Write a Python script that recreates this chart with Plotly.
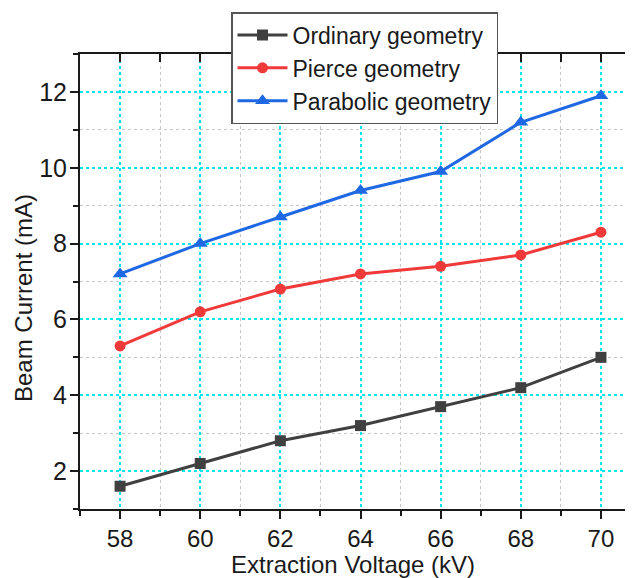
import plotly.graph_objects as go

voltage = [58, 60, 62, 64, 66, 68, 70]
ordinary = [1.6, 2.2, 2.8, 3.2, 3.7, 4.2, 5.0]
pierce = [5.3, 6.2, 6.8, 7.2, 7.4, 7.7, 8.3]
parabolic = [7.2, 8.0, 8.7, 9.4, 9.9, 11.2, 11.9]

names = ["Ordinary geometry", "Pierce geometry", "Parabolic geometry"]
colors = ["#404040", "#f03a3a", "#1f68e4"]
symbols = ["square", "circle", "triangle-up"]
series = [ordinary, pierce, parabolic]

FONT = "Liberation Sans, Arial, sans-serif"

# page has an 8px body margin, so the figure is drawn 8px smaller and offset
OFF = 8
W, H = 633 - OFF, 578 - OFF
L, T, B = 80 - OFF, 54 - OFF, 69
PW, PH = W - L, H - T - B

def px_x(p):  # page pixel -> paper
    return (p - OFF - L) / PW

def px_y(p):
    return (H - B - (p - OFF)) / PH

fig = go.Figure()
for name, vals, col, sym in zip(names, series, colors, symbols):
    fig.add_trace(go.Scatter(
        x=voltage, y=vals, name=name, mode="lines+markers",
        line=dict(color=col, width=3),
        marker=dict(symbol=sym, size=11 if sym != "triangle-up" else 13, color=col),
    ))

# invisible trace to activate mirror axes (top / right)
fig.add_trace(go.Scatter(x=[], y=[], xaxis="x2", yaxis="y2", showlegend=False, hoverinfo="skip"))

XR = [57, 70.8]
YR = [1, 13]

fig.update_layout(
    width=W, height=H,
    margin=dict(l=L, r=0, t=T, b=B, autoexpand=False),
    paper_bgcolor="white", plot_bgcolor="white",
    font=dict(family=FONT, color="#1a1a1a"),
    showlegend=True,
    legend=dict(
        x=px_x(231), y=px_y(12), xanchor="left", yanchor="top",
        bgcolor="white", bordercolor="#555555", borderwidth=1.5,
        font=dict(size=23, family=FONT, color="#1a1a1a"),
        itemwidth=50, tracegroupgap=0,
    ),
    xaxis=dict(
        range=XR, tickvals=voltage, ticktext=[str(v) for v in voltage],
        showline=True, linecolor="#1a1a1a", linewidth=2,
        ticks="outside", ticklen=8, tickwidth=2, tickcolor="#1a1a1a",
        tickfont=dict(size=24), ticklabelstandoff=-1,
        showgrid=True, gridcolor="#00e5ee", gridwidth=2, griddash="dot",
        minor=dict(tickvals=[57, 59, 61, 63, 65, 67, 69], ticks="outside", ticklen=5, tickwidth=2,
                   tickcolor="#1a1a1a", showgrid=True, gridcolor="#c8c8c8", gridwidth=1, griddash="dot"),
        zeroline=False, automargin=False,
    ),
    yaxis=dict(
        range=YR, tickvals=[2, 4, 6, 8, 10, 12],
        showline=True, linecolor="#1a1a1a", linewidth=2,
        ticks="outside", ticklen=8, tickwidth=2, tickcolor="#1a1a1a",
        tickfont=dict(size=25), ticklabelstandoff=-2,
        showgrid=True, gridcolor="#00e5ee", gridwidth=2, griddash="dot",
        minor=dict(tickvals=[1, 3, 5, 7, 9, 11, 13], ticks="outside", ticklen=5, tickwidth=2,
                   tickcolor="#1a1a1a", showgrid=True, gridcolor="#c8c8c8", gridwidth=1, griddash="dot"),
        zeroline=False, automargin=False,
    ),
    xaxis2=dict(
        overlaying="x", side="top", range=XR,
        tickvals=list(range(57, 71)), showticklabels=False,
        ticks="inside", ticklen=8, tickwidth=2, tickcolor="#1a1a1a",
        showline=True, linecolor="#1a1a1a", linewidth=2, showgrid=False, zeroline=False,
        automargin=False,
    ),
    yaxis2=dict(
        overlaying="y", side="right", range=YR,
        tickvals=[2, 4, 6, 8, 10, 12], showticklabels=False,
        ticks="inside", ticklen=6, tickwidth=2, tickcolor="#1a1a1a",
        showline=False, showgrid=False, zeroline=False, automargin=False,
    ),
    annotations=[
        dict(text="Beam Current (mA)", textangle=-90, showarrow=False,
             xref="paper", yref="paper", x=px_x(23), y=px_y(298),
             xanchor="center", yanchor="middle",
             font=dict(size=24, family=FONT, color="#1a1a1a")),
        dict(text="Extraction Voltage (kV)", showarrow=False,
             xref="paper", yref="paper", x=px_x(353), y=px_y(564),
             xanchor="center", yanchor="middle",
             font=dict(size=24, family=FONT, color="#1a1a1a")),
    ],
)

fig.write_html("out.html")
